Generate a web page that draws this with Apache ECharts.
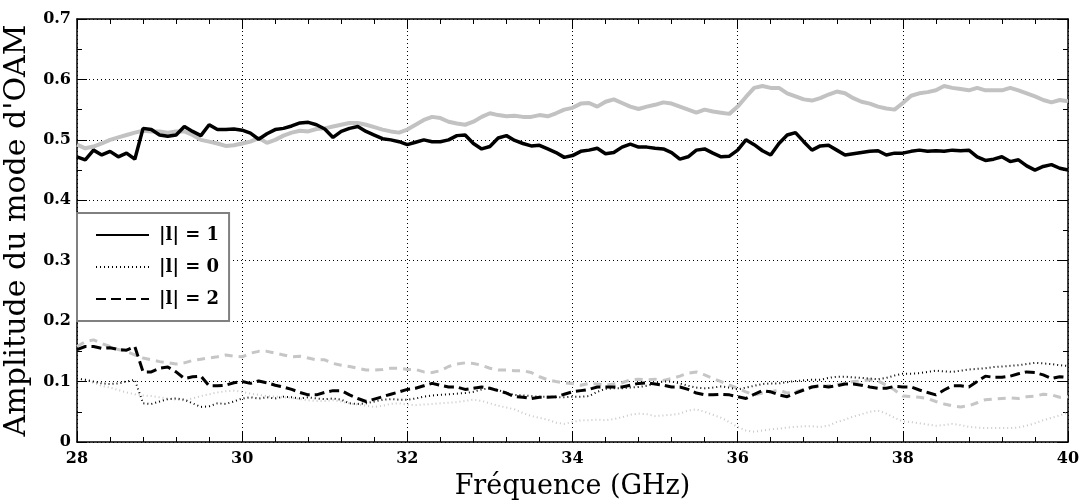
<!DOCTYPE html>
<html>
<head>
<meta charset="utf-8">
<script src="https://cdn.jsdelivr.net/npm/echarts@6/dist/echarts.min.js"></script>
<style>
html,body{margin:0;padding:0;background:#fff;}
#chart{width:1082px;height:504px;}
</style>
</head>
<body>
<div id="chart"></div>
<script>
// Frequency grid (GHz): 28.0 .. 40.0 in 0.1 steps
const freqStart = 28.0;
const freqStep = 0.1;
const freqCount = 121;

const xTicks = ['28','30','32','34','36','38','40'];
const yTicks = ['0','0.1','0.2','0.3','0.4','0.5','0.6','0.7'];

const legendNames = ['|l| = 1', '|l| = 0', '|l| = 2'];

// |l| = 1 (black solid)
const black1 = [
0.472,0.467,0.483,0.475,0.481,0.472,0.478,0.468,0.519,0.517,
0.508,0.506,0.508,0.522,0.514,0.507,0.525,0.517,0.517,0.518,
0.516,0.511,0.501,0.510,0.517,0.519,0.523,0.528,0.529,0.525,
0.518,0.504,0.514,0.519,0.522,0.514,0.508,0.502,0.500,0.497,
0.492,0.496,0.500,0.497,0.497,0.500,0.507,0.508,0.494,0.485,
0.489,0.503,0.507,0.499,0.494,0.490,0.491,0.485,0.479,0.471,
0.474,0.481,0.483,0.486,0.477,0.479,0.488,0.493,0.488,0.488,
0.486,0.485,0.479,0.468,0.472,0.483,0.485,0.478,0.472,0.473,
0.483,0.500,0.492,0.482,0.475,0.494,0.508,0.512,0.497,0.483,
0.490,0.491,0.483,0.475,0.477,0.479,0.481,0.482,0.475,0.478,
0.478,0.481,0.483,0.481,0.482,0.481,0.483,0.482,0.483,0.472,
0.466,0.468,0.472,0.464,0.467,0.457,0.450,0.456,0.459,0.453,
0.450];

// gray solid
const gray1 = [
0.492,0.486,0.489,0.494,0.500,0.504,0.508,0.512,0.515,0.514,
0.514,0.512,0.514,0.514,0.508,0.500,0.497,0.494,0.490,0.491,
0.494,0.497,0.503,0.495,0.500,0.507,0.512,0.515,0.514,0.518,
0.519,0.522,0.525,0.528,0.528,0.525,0.521,0.517,0.514,0.512,
0.517,0.525,0.533,0.538,0.536,0.530,0.527,0.525,0.530,0.538,
0.544,0.541,0.539,0.540,0.538,0.538,0.541,0.539,0.544,0.550,
0.553,0.560,0.561,0.555,0.563,0.567,0.561,0.555,0.551,0.555,
0.558,0.562,0.560,0.555,0.550,0.545,0.550,0.547,0.545,0.543,
0.555,0.571,0.586,0.589,0.586,0.586,0.577,0.572,0.567,0.565,
0.569,0.575,0.580,0.577,0.569,0.563,0.560,0.555,0.552,0.550,
0.561,0.573,0.577,0.579,0.582,0.589,0.586,0.584,0.582,0.586,
0.582,0.582,0.582,0.586,0.582,0.577,0.572,0.566,0.562,0.566,
0.564];

// |l| = 2 (black dashed)
const black2 = [
0.153,0.158,0.158,0.155,0.156,0.153,0.152,0.158,0.116,0.116,
0.122,0.124,0.116,0.105,0.108,0.109,0.093,0.093,0.094,0.098,
0.100,0.097,0.101,0.098,0.094,0.091,0.087,0.082,0.078,0.078,
0.082,0.085,0.085,0.078,0.072,0.067,0.071,0.075,0.079,0.083,
0.087,0.089,0.093,0.097,0.094,0.091,0.091,0.087,0.089,0.091,
0.089,0.085,0.081,0.075,0.074,0.072,0.074,0.074,0.075,0.079,
0.083,0.085,0.087,0.091,0.091,0.091,0.091,0.094,0.097,0.098,
0.096,0.094,0.091,0.091,0.087,0.081,0.078,0.078,0.079,0.078,
0.075,0.072,0.079,0.085,0.083,0.078,0.075,0.081,0.086,0.091,
0.093,0.091,0.093,0.096,0.096,0.094,0.091,0.089,0.089,0.092,
0.091,0.091,0.086,0.082,0.078,0.086,0.093,0.093,0.091,0.100,
0.109,0.107,0.107,0.109,0.113,0.116,0.115,0.111,0.105,0.108,
0.107];

// gray dashed
const gray2 = [
0.158,0.166,0.169,0.163,0.158,0.153,0.150,0.144,0.139,0.136,
0.133,0.131,0.129,0.131,0.135,0.137,0.139,0.141,0.144,0.142,
0.141,0.147,0.150,0.150,0.147,0.144,0.141,0.142,0.139,0.136,
0.136,0.130,0.127,0.125,0.122,0.119,0.119,0.120,0.122,0.122,
0.120,0.120,0.116,0.115,0.118,0.125,0.129,0.131,0.130,0.127,
0.122,0.119,0.119,0.118,0.118,0.115,0.108,0.103,0.100,0.098,
0.097,0.094,0.097,0.096,0.094,0.096,0.098,0.103,0.104,0.103,
0.104,0.102,0.105,0.109,0.114,0.116,0.111,0.105,0.100,0.094,
0.089,0.083,0.078,0.081,0.083,0.086,0.081,0.083,0.087,0.091,
0.091,0.093,0.095,0.097,0.100,0.101,0.103,0.101,0.094,0.086,
0.076,0.075,0.074,0.072,0.067,0.063,0.060,0.058,0.060,0.065,
0.070,0.071,0.072,0.073,0.072,0.075,0.076,0.079,0.078,0.074,
0.075];

// |l| = 0 (black dotted)
const black0 = [
0.105,0.103,0.100,0.097,0.096,0.097,0.100,0.103,0.064,0.063,
0.067,0.071,0.072,0.070,0.064,0.058,0.059,0.064,0.063,0.067,
0.072,0.074,0.072,0.074,0.072,0.075,0.074,0.072,0.074,0.072,
0.071,0.072,0.070,0.064,0.063,0.064,0.067,0.070,0.071,0.070,
0.070,0.072,0.075,0.077,0.078,0.079,0.080,0.081,0.083,0.087,
0.089,0.086,0.081,0.078,0.077,0.076,0.075,0.075,0.074,0.074,
0.075,0.075,0.076,0.083,0.088,0.089,0.089,0.090,0.091,0.093,
0.097,0.100,0.100,0.097,0.093,0.090,0.089,0.090,0.092,0.090,
0.087,0.090,0.093,0.096,0.097,0.097,0.099,0.101,0.102,0.103,
0.103,0.106,0.108,0.108,0.107,0.106,0.105,0.104,0.106,0.110,
0.113,0.113,0.114,0.116,0.118,0.117,0.116,0.118,0.120,0.121,
0.122,0.124,0.125,0.126,0.127,0.129,0.131,0.130,0.129,0.127,
0.126];

// gray dotted
const gray0 = [
0.105,0.103,0.098,0.093,0.090,0.086,0.082,0.079,0.077,0.076,
0.074,0.072,0.070,0.069,0.072,0.076,0.079,0.082,0.084,0.085,
0.083,0.080,0.078,0.076,0.075,0.074,0.073,0.071,0.069,0.068,
0.068,0.069,0.067,0.064,0.062,0.060,0.058,0.060,0.063,0.064,
0.062,0.061,0.062,0.063,0.064,0.065,0.066,0.068,0.070,0.068,
0.064,0.060,0.057,0.054,0.048,0.043,0.040,0.037,0.032,0.030,
0.033,0.036,0.036,0.037,0.036,0.038,0.041,0.045,0.047,0.046,
0.043,0.044,0.045,0.047,0.052,0.054,0.050,0.045,0.040,0.033,
0.025,0.019,0.017,0.019,0.021,0.022,0.024,0.025,0.026,0.026,
0.025,0.027,0.033,0.037,0.042,0.046,0.050,0.052,0.047,0.040,
0.034,0.033,0.031,0.029,0.027,0.028,0.030,0.028,0.025,0.024,
0.023,0.023,0.023,0.023,0.024,0.027,0.031,0.036,0.040,0.044,
0.049];

const freq = Array.from({length: freqCount}, (_, i) => +(freqStart + i * freqStep).toFixed(1));
const pairs = arr => freq.map((f, i) => [f, arr[i]]);

const serif = 'DejaVu Serif';
const tickFont = {fontFamily: serif, fontWeight: 'bold', fontSize: 16, color: '#000'};

function xAxisBase(pos, showLabel) {
  return {
    type: 'value', position: pos, min: 28, max: 40, interval: 2,
    axisLine: {show: true, onZero: false, lineStyle: {color: '#000', width: 1.5}},
    axisTick: {show: true, inside: true, length: 10, lineStyle: {color: '#000', width: 1}},
    minorTick: {show: true, splitNumber: 5, length: 5, lineStyle: {color: '#000', width: 1}},
    splitLine: {show: showLabel, lineStyle: {color: '#000', width: 1, type: [1, 3]}},
    minorSplitLine: {show: false},
    axisLabel: showLabel ? Object.assign({margin: 9, formatter: v => xTicks[xTicks.indexOf(String(v))] || String(v)}, tickFont) : {show: false}
  };
}
function yAxisBase(pos, showLabel) {
  return {
    type: 'value', position: pos, min: 0, max: 0.7, interval: 0.1,
    axisLine: {show: true, onZero: false, lineStyle: {color: '#000', width: 1.5}},
    axisTick: {show: true, inside: true, length: 10, lineStyle: {color: '#000', width: 1}},
    minorTick: {show: true, splitNumber: 2, length: 5, lineStyle: {color: '#000', width: 1}},
    splitLine: {show: showLabel, lineStyle: {color: '#000', width: 1, type: [1, 3]}},
    axisLabel: showLabel ? Object.assign({margin: 6, formatter: v => yTicks[Math.round(v * 10)]}, tickFont) : {show: false}
  };
}

const xBottom = Object.assign(xAxisBase('bottom', true), {
  name: 'Fréquence (GHz)', nameLocation: 'middle', nameGap: 31,
  nameTextStyle: {fontFamily: serif, fontSize: 27, color: '#000'}
});
const yLeft = Object.assign(yAxisBase('left', true), {
  name: "Amplitude du mode d'OAM", nameLocation: 'middle', nameGap: 40,
  nameTextStyle: {fontFamily: serif, fontSize: 30, color: '#000'}
});

function line(name, data, color, width, type, z) {
  return {
    name, type: 'line', data: pairs(data), symbol: 'none', z,
    lineStyle: {color, width, type},
    itemStyle: {color},
    emphasis: {disabled: true},
    animation: false
  };
}

const option = {
  animation: false,
  backgroundColor: '#fff',
  grid: {left: 77, right: 14, top: 19, bottom: 62, containLabel: false, outerBoundsMode: 'none'},
  xAxis: [xBottom, xAxisBase('top', false)],
  yAxis: [yLeft, yAxisBase('right', false)],
  legend: {
    data: legendNames, orient: 'vertical', left: 77, top: 213,
    padding: [13, 10, 13, 18], itemWidth: 53, itemHeight: 14, itemGap: 14,
    backgroundColor: '#fff', borderColor: '#808080', borderWidth: 2, borderRadius: 0,
    itemStyle: {opacity: 0},
    textStyle: {fontFamily: serif, fontWeight: 'bold', fontSize: 18, color: '#000', padding: [0, 0, 0, 5]},
    selectedMode: false
  },
  series: [
    line('gray |l| = 1', gray1, '#c2c2c2', 4, 'solid', 2),
    line('gray |l| = 2', gray2, '#c6c6c6', 3, [8, 6], 2),
    line('gray |l| = 0', gray0, '#c8c8c8', 2, [1, 3], 2),
    line('|l| = 0', black0, '#000', 2, [1, 3], 3),
    line('|l| = 2', black2, '#000', 3, [10, 5], 3),
    line('|l| = 1', black1, '#000', 3.5, 'solid', 4)
  ]
};

const chart = echarts.init(document.getElementById('chart'), null, {renderer: 'canvas'});
chart.setOption(option);
</script>
</body>
</html>
